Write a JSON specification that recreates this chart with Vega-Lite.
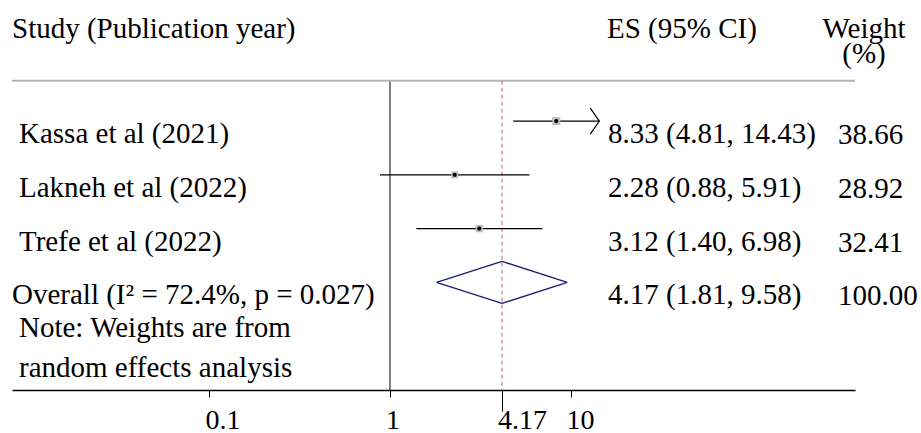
{
  "$schema": "https://vega.github.io/schema/vega-lite/v6.json",
  "width": 843,
  "height": 390,
  "autosize": {"type": "none"},
  "padding": {"left": 12, "top": 0, "right": 66, "bottom": 43},
  "background": "white",
  "config": {
    "view": {"stroke": null},
    "text": {"font": "Liberation Serif", "fontSize": 29, "color": "black", "align": "left", "baseline": "alphabetic"}
  },
  "datasets": {
    "rows": [
      {"type": "study", "row": 1, "label": "Kassa et al (2021)", "es": 8.33, "lo": 4.81, "hi": 14.43, "weight": 38.66, "esci": "8.33 (4.81, 14.43)", "wt": "38.66"},
      {"type": "study", "row": 2, "label": "Lakneh et al (2022)", "es": 2.28, "lo": 0.88, "hi": 5.91, "weight": 28.92, "esci": "2.28 (0.88, 5.91)", "wt": "28.92"},
      {"type": "study", "row": 3, "label": "Trefe et al (2022)", "es": 3.12, "lo": 1.40, "hi": 6.98, "weight": 32.41, "esci": "3.12 (1.40, 6.98)", "wt": "32.41"},
      {"type": "pooled", "row": 4, "label": "Overall (I\u00b2 = 72.4%, p = 0.027)", "es": 4.17, "lo": 1.81, "hi": 9.58, "weight": 100.00, "esci": "4.17 (1.81, 9.58)", "wt": "100.00"}
    ]
  },
  "layer": [
    {
      "description": "Line of no effect at 1, carrying the log axis",
      "data": {"values": [{}]},
      "mark": {"type": "rule", "color": "black", "strokeWidth": 1},
      "encoding": {
        "x": {
          "datum": 1, "type": "quantitative",
          "scale": {"type": "log", "domain": [0.00807, 375.6], "nice": false},
          "axis": {
            "values": [0.1, 1, 4.17, 10],
            "labelExpr": "'' + datum.value",
            "title": null, "grid": false,
            "domainColor": "black", "domainWidth": 1.3,
            "tickColor": "black", "tickWidth": 1,
            "tickSize": {"condition": {"test": "datum.value == 4.17", "value": 21}, "value": 7},
            "labelFont": "Liberation Serif", "labelFontSize": 28, "labelColor": "black",
            "labelAlign": "left", "labelBaseline": "alphabetic",
            "labelPadding": {"condition": {"test": "datum.value == 4.17", "value": 17}, "value": 31},
            "labelOffset": -4.5,
            "labelFlush": false, "labelOverlap": false
          }
        },
        "y": {"datum": 0.25, "type": "quantitative", "scale": {"domain": [-1.25, 6], "reverse": true, "nice": false, "zero": false}, "axis": null},
        "y2": {"datum": 6}
      }
    },
    {
      "description": "Header separator",
      "data": {"values": [{}]},
      "mark": {"type": "rule", "color": "#b4b4b4", "strokeWidth": 2},
      "encoding": {
        "y": {"datum": 0.25, "type": "quantitative", "axis": null}
      }
    },
    {
      "description": "Pooled estimate reference line",
      "data": {"name": "rows"},
      "transform": [{"filter": "datum.type == 'pooled'"}],
      "mark": {"type": "rule", "color": "#b06a6a", "strokeWidth": 1, "strokeDash": [4, 3]},
      "encoding": {
        "x": {"field": "es", "type": "quantitative"},
        "y": {"datum": 0.25, "type": "quantitative", "axis": null},
        "y2": {"datum": 6}
      }
    },
    {
      "description": "Study confidence intervals",
      "data": {"name": "rows"},
      "transform": [{"filter": "datum.type == 'study'"}],
      "mark": {"type": "rule", "color": "black", "strokeWidth": 1.2},
      "encoding": {
        "x": {"field": "lo", "type": "quantitative"},
        "x2": {"field": "hi"},
        "y": {"field": "row", "type": "quantitative", "axis": null}
      }
    },
    {
      "description": "Weight boxes",
      "data": {"name": "rows"},
      "transform": [{"filter": "datum.type == 'study'"}],
      "mark": {"type": "square", "filled": true, "color": "#bdbdbd", "opacity": 1},
      "encoding": {
        "x": {"field": "es", "type": "quantitative"},
        "y": {"field": "row", "type": "quantitative", "axis": null},
        "size": {"field": "weight", "type": "quantitative", "scale": {"zero": true, "range": [0, 64]}, "legend": null}
      }
    },
    {
      "description": "Point estimates",
      "data": {"name": "rows"},
      "transform": [{"filter": "datum.type == 'study'"}],
      "mark": {"type": "circle", "color": "black", "size": 18, "opacity": 1},
      "encoding": {
        "x": {"field": "es", "type": "quantitative"},
        "y": {"field": "row", "type": "quantitative", "axis": null}
      }
    },
    {
      "description": "Arrow for an interval running past the axis labels",
      "data": {"name": "rows"},
      "transform": [{"filter": "datum.type == 'study' && datum.hi > 10"}],
      "mark": {"type": "point", "shape": "M-0.7,-1L0,0L-0.7,1", "filled": false, "stroke": "black", "strokeWidth": 1.2, "size": 676, "opacity": 1},
      "encoding": {
        "x": {"field": "hi", "type": "quantitative"},
        "y": {"field": "row", "type": "quantitative", "axis": null}
      }
    },
    {
      "description": "Pooled diamond, upper left edge",
      "data": {"name": "rows"},
      "transform": [{"filter": "datum.type == 'pooled'"}],
      "mark": {"type": "rule", "color": "#1c1c7c", "strokeWidth": 1.4, "y2Offset": -21},
      "encoding": {
        "x": {"field": "lo", "type": "quantitative"},
        "x2": {"field": "es"},
        "y": {"field": "row", "type": "quantitative", "axis": null},
        "y2": {"field": "row"}
      }
    },
    {
      "description": "Pooled diamond, lower left edge",
      "data": {"name": "rows"},
      "transform": [{"filter": "datum.type == 'pooled'"}],
      "mark": {"type": "rule", "color": "#1c1c7c", "strokeWidth": 1.4, "y2Offset": 21},
      "encoding": {
        "x": {"field": "lo", "type": "quantitative"},
        "x2": {"field": "es"},
        "y": {"field": "row", "type": "quantitative", "axis": null},
        "y2": {"field": "row"}
      }
    },
    {
      "description": "Pooled diamond, upper right edge",
      "data": {"name": "rows"},
      "transform": [{"filter": "datum.type == 'pooled'"}],
      "mark": {"type": "rule", "color": "#1c1c7c", "strokeWidth": 1.4, "yOffset": -21},
      "encoding": {
        "x": {"field": "es", "type": "quantitative"},
        "x2": {"field": "hi"},
        "y": {"field": "row", "type": "quantitative", "axis": null},
        "y2": {"field": "row"}
      }
    },
    {
      "description": "Pooled diamond, lower right edge",
      "data": {"name": "rows"},
      "transform": [{"filter": "datum.type == 'pooled'"}],
      "mark": {"type": "rule", "color": "#1c1c7c", "strokeWidth": 1.4, "yOffset": 21},
      "encoding": {
        "x": {"field": "es", "type": "quantitative"},
        "x2": {"field": "hi"},
        "y": {"field": "row", "type": "quantitative", "axis": null},
        "y2": {"field": "row"}
      }
    },
    {
      "description": "Study names, indented one space",
      "data": {"name": "rows"},
      "transform": [{"filter": "datum.type == 'study'"}],
      "mark": {"type": "text", "dy": 22, "dx": 7},
      "encoding": {
        "x": {"datum": 0.00807, "type": "quantitative"},
        "y": {"field": "row", "type": "quantitative", "axis": null},
        "text": {"field": "label"}
      }
    },
    {
      "description": "Pooled row label",
      "data": {"name": "rows"},
      "transform": [{"filter": "datum.type == 'pooled'"}],
      "mark": {"type": "text", "dy": 22},
      "encoding": {
        "x": {"datum": 0.00807, "type": "quantitative"},
        "y": {"field": "row", "type": "quantitative", "axis": null},
        "text": {"field": "label"}
      }
    },
    {
      "description": "Effect sizes with intervals",
      "data": {"name": "rows"},
      "mark": {"type": "text", "dy": 22},
      "encoding": {
        "x": {"datum": 16.11, "type": "quantitative"},
        "y": {"field": "row", "type": "quantitative", "axis": null},
        "text": {"field": "esci"}
      }
    },
    {
      "description": "Weights",
      "data": {"name": "rows"},
      "mark": {"type": "text", "dy": 23},
      "encoding": {
        "x": {"datum": 302.4, "type": "quantitative"},
        "y": {"field": "row", "type": "quantitative", "axis": null},
        "text": {"field": "wt"}
      }
    },
    {
      "description": "Left-aligned column headers",
      "data": {"values": [
        {"head": "Study (Publication year)", "at": 0.00807},
        {"head": "ES (95% CI)", "at": 15.9}
      ]},
      "mark": {"type": "text", "dy": 25},
      "encoding": {
        "x": {"field": "at", "type": "quantitative"},
        "y": {"datum": -1, "type": "quantitative", "axis": null},
        "text": {"field": "head"}
      }
    },
    {
      "description": "Weight column header, two centred lines",
      "data": {"values": [{"head": "Weight\n(%)", "at": 421.3}]},
      "mark": {"type": "text", "dy": 25, "align": "center", "lineBreak": "\n", "lineHeight": 25},
      "encoding": {
        "x": {"field": "at", "type": "quantitative"},
        "y": {"datum": -1, "type": "quantitative", "axis": null},
        "text": {"field": "head"}
      }
    },
    {
      "description": "Footnote",
      "data": {"values": [{}]},
      "mark": {"type": "text", "dy": 1, "dx": 7, "lineBreak": "\n", "lineHeight": 40, "text": "Note: Weights are from\nrandom effects analysis"},
      "encoding": {
        "x": {"datum": 0.00807, "type": "quantitative"},
        "y": {"datum": 5, "type": "quantitative", "axis": null}
      }
    }
  ]
}
